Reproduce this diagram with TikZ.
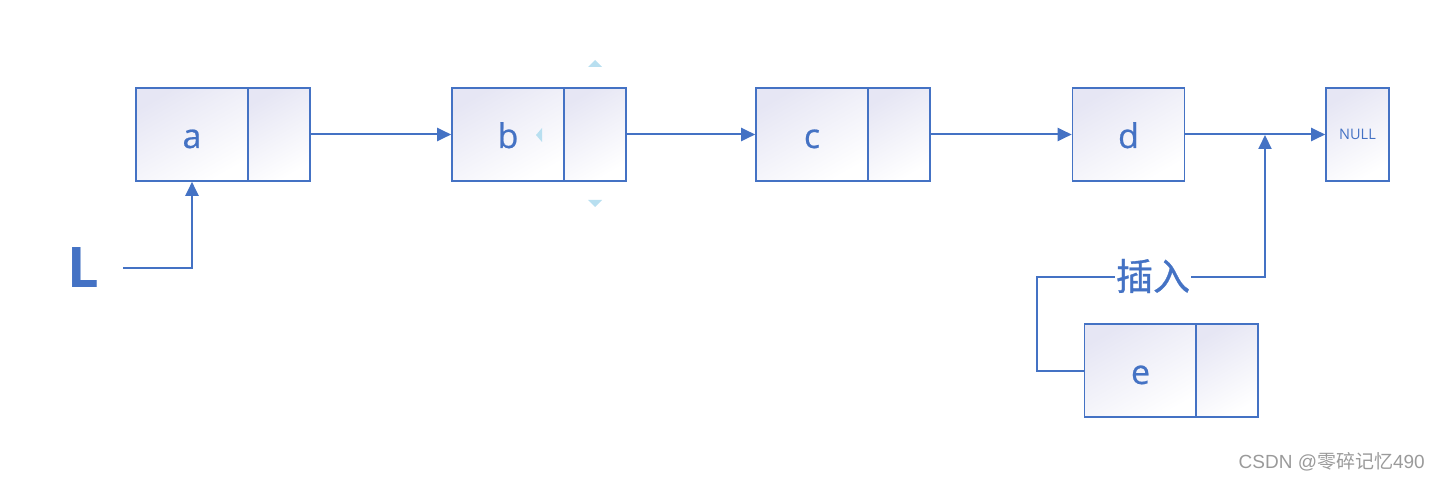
\documentclass[tikz,border=0pt]{standalone}
\usepackage{fontspec}
\setmainfont{Open Sans}
\newfontfamily\cellfont[FakeBold=0.6]{Open Sans}
\newfontfamily\cjk{Noto Sans CJK SC}
\newfontfamily\cjkb[FakeBold=0.8]{Noto Sans CJK SC}
\newfontfamily\wmfont{Liberation Sans}
\usetikzlibrary{arrows.meta}
\definecolor{ob}{HTML}{4472C4}
\definecolor{lav}{HTML}{E6E6F4}
\definecolor{hnd}{HTML}{B8DFF0}
\definecolor{wm}{HTML}{9A9A9A}
\begin{document}
\begin{tikzpicture}[x=1pt,y=-1pt,
  cell/.style={rectangle,draw=ob,line width=1.6pt,minimum height=93pt,inner sep=0pt,
    top color=lav,bottom color=white,shading angle=30,
    text=ob,font=\cellfont\fontsize{34}{38}\selectfont,text height=27pt,text depth=0pt},
  datacell/.style={cell,minimum width=112pt},
  ptrcell/.style={cell,minimum width=62pt},
  link/.style={draw=ob,line width=2pt},
  arr/.style={link,-{Triangle[length=14pt,width=13pt]}},
  handle/.style={fill=hnd,draw=none}]
\useasboundingbox (0,0) rectangle (1441,481);
% nodes
\node[datacell] (a) at (192,134.5) {a};
\node[ptrcell]  (ap) at (279,134.5) {};
\node[datacell] (b) at (508,134.5) {b};
\node[ptrcell]  (bp) at (595,134.5) {};
\node[datacell] (c) at (812,134.5) {c};
\node[ptrcell]  (cp) at (899,134.5) {};
\node[datacell] (d) at (1128.5,134.5) {d};
\node[cell,minimum width=63pt,font=\fontsize{14.5}{16}\selectfont,text height=11pt] (null) at (1357.5,134.5) {NULL};
\node[datacell] (e) at (1140.5,370.5) {e};
\node[ptrcell]  (ep) at (1227,370.5) {};
\node[text=ob,font=\bfseries\fontsize{56}{60}\selectfont,inner sep=0pt] (L) at (83,268) {L};
\node[text=ob,font=\cjkb\fontsize{37}{40}\selectfont,inner sep=1pt] (ins) at (1153,276) {插入};
\node[text=wm,font=\wmfont\fontsize{19}{22}\selectfont,anchor=east,inner sep=0pt] (wmk) at (1425,462) {CSDN @{\cjk 零碎记忆}490};
% selection handles
\fill[handle] (588,67) -- (595,60) -- (602,67) -- cycle;
\fill[handle] (588,200) -- (595,207) -- (602,200) -- cycle;
\fill[handle] (542,128) -- (536,135) -- (542,142) -- cycle;
% connectors
\coordinate (lstart) at (123,268);
\coordinate (junc) at (1265,135);
\draw[arr] (ap.east) -- (b.west);
\draw[arr] (bp.east) -- (c.west);
\draw[arr] (cp.east) -- (d.west);
\draw[arr] (d.east) -- (null.west);
\draw[arr] (lstart) -| (a.south);
\draw[link] (e.west) -- ++(-47,0) |- (ins.west |- 0,277);
\draw[arr] (ins.east |- 0,277) -| (junc);
\end{tikzpicture}
\end{document}
